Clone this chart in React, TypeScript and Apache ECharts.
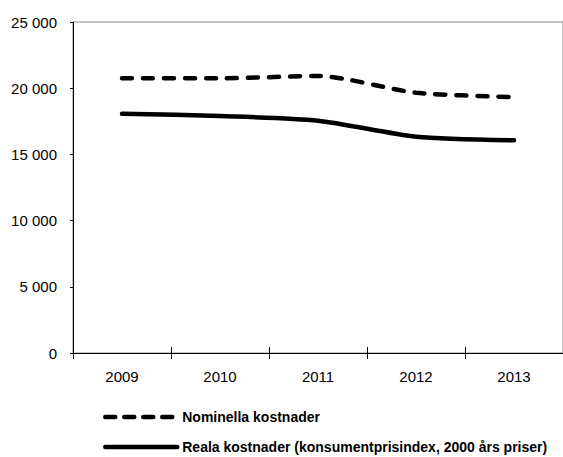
import React, { useEffect, useRef } from "react";
import * as echarts from "echarts";

const years = ["2009", "2010", "2011", "2012", "2013"];
const nominal = [20750, 20750, 20920, 19660, 19330];
const real = [18070, 17900, 17550, 16340, 16070];
const seriesNames = ["Nominella kostnader", "Reala kostnader (konsumentprisindex, 2000 års priser)"];

const FONT = "'Liberation Sans', Arial, sans-serif";

const legendBase = {
  orient: "horizontal",
  left: 103,
  padding: 0,
  itemWidth: 72,
  itemHeight: 14,
  itemStyle: { opacity: 0 },
  textStyle: { fontFamily: FONT, fontWeight: "bold", fontSize: 14, color: "#000" },
};

export default function App() {
  const ref = useRef<HTMLDivElement>(null);
  useEffect(() => {
    const chart = echarts.init(ref.current!, null, { renderer: "svg" });
    chart.setOption({
      animation: false,
      textStyle: { fontFamily: FONT },
      grid: {
        left: 73,
        top: 22,
        right: -3,
        bottom: 104,
        show: true,
        borderColor: "#888",
        borderWidth: 1,
      },
      legend: [
        {
          ...legendBase,
          top: 410,
          data: [seriesNames[0]],
          lineStyle: { width: 4.5, type: [10, 9], cap: "round" },
        },
        {
          ...legendBase,
          top: 440,
          data: [seriesNames[1]],
          lineStyle: { width: 4.5, cap: "round" },
        },
      ],
      xAxis: [
        {
          type: "category",
          data: years,
          boundaryGap: true,
          axisLine: { lineStyle: { color: "#000", width: 1 } },
          axisTick: { show: true, length: 6, lineStyle: { color: "#000" } },
          axisLabel: { color: "#000", fontSize: 15, margin: 16, fontFamily: FONT },
        },
        {
          type: "category",
          data: years,
          position: "bottom",
          boundaryGap: true,
          axisLine: { show: false },
          axisTick: { show: true, inside: true, length: 6, lineStyle: { color: "#000" } },
          axisLabel: { show: false },
        },
      ],
      yAxis: {
        type: "value",
        min: 0,
        max: 25000,
        interval: 5000,
        axisLine: { show: true, lineStyle: { color: "#000", width: 1 } },
        axisTick: { show: true, length: 3, lineStyle: { color: "#000" } },
        splitLine: { show: false },
        axisLabel: {
          color: "#000",
          fontSize: 15,
          margin: 16,
          fontFamily: FONT,
          formatter: (v: number) => String(v).replace(/\B(?=(\d{3})+(?!\d))/g, " "),
        },
      },
      series: [
        {
          name: seriesNames[0],
          type: "line",
          data: nominal,
          smooth: 0.25,
          symbol: "none",
          lineStyle: { color: "#000", width: 4.5, type: [10, 11], cap: "round" },
          itemStyle: { color: "#000" },
        },
        {
          name: seriesNames[1],
          type: "line",
          data: real,
          smooth: 0.25,
          symbol: "none",
          lineStyle: { color: "#000", width: 4.5, cap: "round" },
          itemStyle: { color: "#000" },
        },
      ],
    });
    return () => chart.dispose();
  }, []);
  return <div ref={ref} style={{ position: "fixed", left: 0, top: 0, width: 563, height: 457, background: "#fff" }} />;
}
